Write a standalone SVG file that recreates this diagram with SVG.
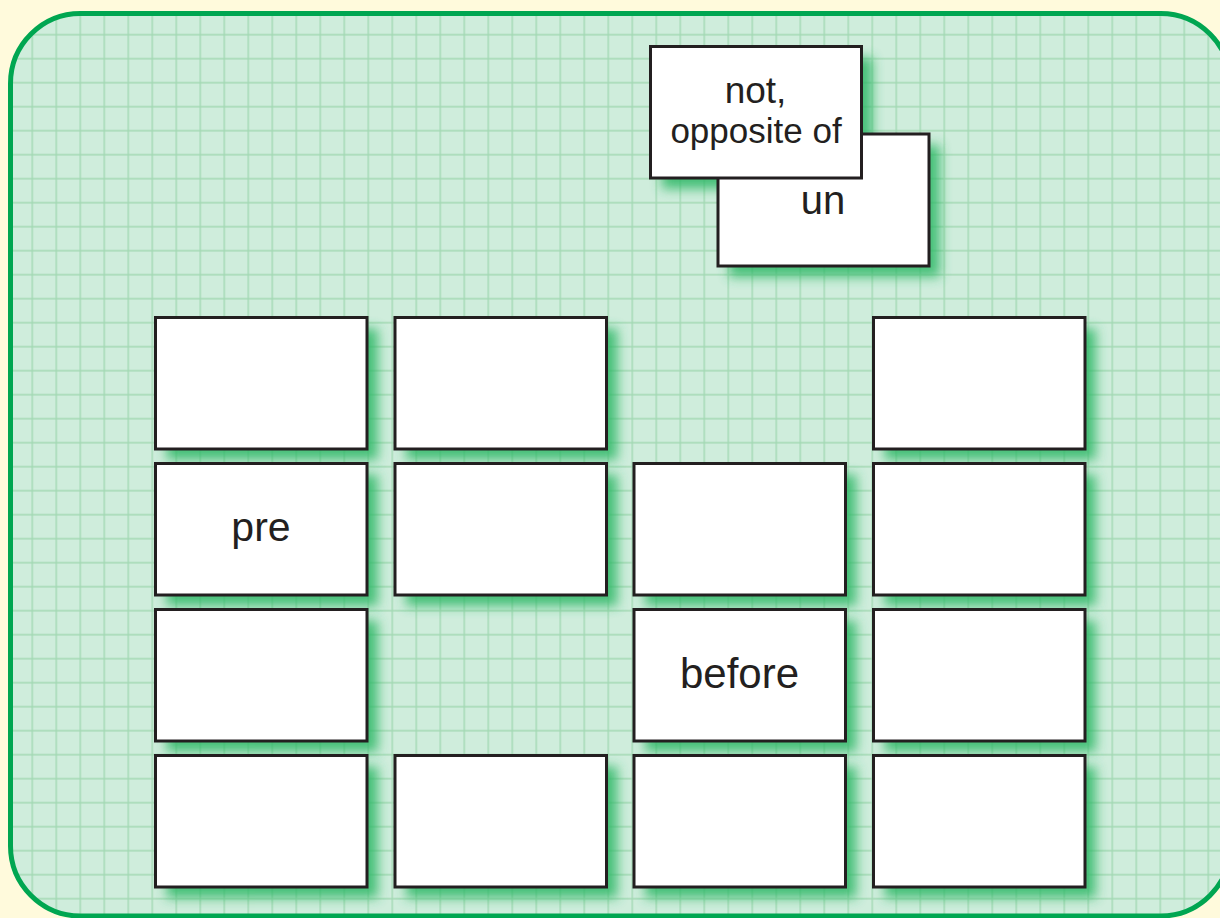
<svg xmlns="http://www.w3.org/2000/svg" width="1220" height="918" viewBox="0 0 1220 918">
  <defs>
    <pattern id="grid" patternUnits="userSpaceOnUse" x="20.3" y="22.7" width="24" height="24">
      <path d="M12 0V24M0 12H24" stroke="#a3d9b4" stroke-width="1.4" fill="none"/>
    </pattern>
    <clipPath id="panelClip">
      <rect x="10.5" y="13.5" width="1220" height="902.5" rx="70" ry="70"/>
    </clipPath>
    <filter id="blur" x="-20%" y="-20%" width="140%" height="140%">
      <feGaussianBlur stdDeviation="6"/>
    </filter>
  </defs>
  <style>
    .card { fill: #ffffff; stroke: #231f20; stroke-width: 3; }
    .shadow { fill: #2eb866; opacity: 0.85; filter: url(#blur); }
    .lbl { font-family: "Liberation Sans", Arial, sans-serif; fill: #231f20; text-anchor: middle; }
  </style>
  <rect x="0" y="0" width="1220" height="918" fill="#fffadc"/>
  <g id="panel">
    <rect x="10.5" y="13.5" width="1220" height="902.5" rx="70" ry="70" fill="#cfeddc"/>
    <rect x="0" y="0" width="1240" height="918" fill="url(#grid)" clip-path="url(#panelClip)"/>
  </g>
  <g id="shadows" clip-path="url(#panelClip)">
    <rect class="shadow" x="729" y="145" width="211" height="132"/>
    <rect class="shadow" x="661.5" y="57.5" width="211" height="131.5"/>
    <rect class="shadow" x="166.5" y="328.5" width="211.5" height="131.5"/>
    <rect class="shadow" x="406" y="328.5" width="211.5" height="131.5"/>
    <rect class="shadow" x="884.5" y="328.5" width="211.5" height="131.5"/>
    <rect class="shadow" x="166.5" y="474.5" width="211.5" height="131.5"/>
    <rect class="shadow" x="406" y="474.5" width="211.5" height="131.5"/>
    <rect class="shadow" x="645" y="474.5" width="211.5" height="131.5"/>
    <rect class="shadow" x="884.5" y="474.5" width="211.5" height="131.5"/>
    <rect class="shadow" x="166.5" y="620.5" width="211.5" height="131.5"/>
    <rect class="shadow" x="645" y="620.5" width="211.5" height="131.5"/>
    <rect class="shadow" x="884.5" y="620.5" width="211.5" height="131.5"/>
    <rect class="shadow" x="166.5" y="766.5" width="211.5" height="131.5"/>
    <rect class="shadow" x="406" y="766.5" width="211.5" height="131.5"/>
    <rect class="shadow" x="645" y="766.5" width="211.5" height="131.5"/>
    <rect class="shadow" x="884.5" y="766.5" width="211.5" height="131.5"/>
  </g>
  <g id="card-un">
    <rect class="card" x="718" y="134" width="211" height="132"/>
    <text class="lbl" x="823" y="214" font-size="40">un</text>
  </g>
  <g id="card-not">
    <rect class="card" x="650.5" y="46.5" width="211" height="131.5"/>
    <text class="lbl" x="755.5" y="103" font-size="37">not,</text>
    <text class="lbl" x="756" y="142.5" font-size="35">opposite of</text>
  </g>
  <g id="r1c1"><rect class="card" x="155.5" y="317.5" width="211.5" height="131.5"/></g>
  <g id="r1c2"><rect class="card" x="395" y="317.5" width="211.5" height="131.5"/></g>
  <g id="r1c4"><rect class="card" x="873.5" y="317.5" width="211.5" height="131.5"/></g>
  <g id="r2c1">
    <rect class="card" x="155.5" y="463.5" width="211.5" height="131.5"/>
    <text class="lbl" x="261" y="540.5" font-size="41">pre</text>
  </g>
  <g id="r2c2"><rect class="card" x="395" y="463.5" width="211.5" height="131.5"/></g>
  <g id="r2c3"><rect class="card" x="634" y="463.5" width="211.5" height="131.5"/></g>
  <g id="r2c4"><rect class="card" x="873.5" y="463.5" width="211.5" height="131.5"/></g>
  <g id="r3c1"><rect class="card" x="155.5" y="609.5" width="211.5" height="131.5"/></g>
  <g id="r3c3">
    <rect class="card" x="634" y="609.5" width="211.5" height="131.5"/>
    <text class="lbl" x="739.5" y="688" font-size="42">before</text>
  </g>
  <g id="r3c4"><rect class="card" x="873.5" y="609.5" width="211.5" height="131.5"/></g>
  <g id="r4c1"><rect class="card" x="155.5" y="755.5" width="211.5" height="131.5"/></g>
  <g id="r4c2"><rect class="card" x="395" y="755.5" width="211.5" height="131.5"/></g>
  <g id="r4c3"><rect class="card" x="634" y="755.5" width="211.5" height="131.5"/></g>
  <g id="r4c4"><rect class="card" x="873.5" y="755.5" width="211.5" height="131.5"/></g>
  <g id="connectors"/>
  <rect x="10.5" y="13.5" width="1220" height="902.5" rx="70" ry="70" fill="none" stroke="#00a651" stroke-width="5"/>
</svg>
